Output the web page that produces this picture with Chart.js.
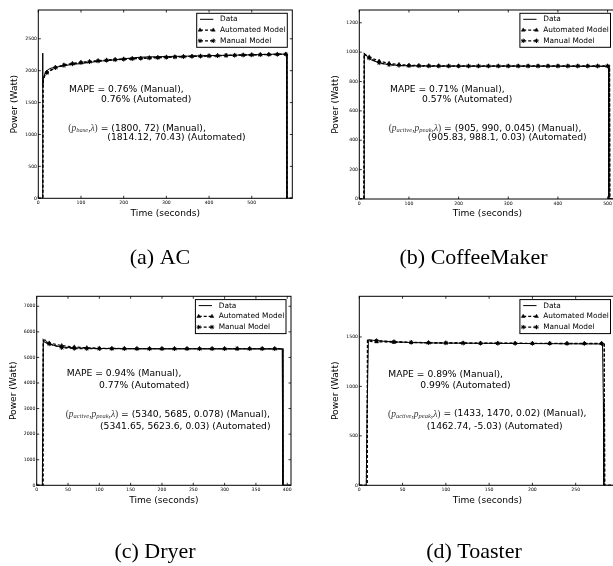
<!DOCTYPE html>
<html><head><meta charset="utf-8">
<script src="https://cdn.jsdelivr.net/npm/chart.js@4.4.1/dist/chart.umd.min.js"></script>
<style>
html,body{margin:0;padding:0;background:#fff;width:613px;height:566px;overflow:hidden;position:relative;}
canvas{position:absolute;left:0;top:0;}
</style></head><body>
<canvas id="cA" width="640" height="566"></canvas>
<canvas id="cB" width="640" height="566"></canvas>
<canvas id="cC" width="640" height="566"></canvas>
<canvas id="cD" width="640" height="566"></canvas>
<script>
// ---------- (a) AC ----------
const acTime = [0,10,10.2,10.7,12,14,17,20,25,30,40,50,60,80,100,125,150,175,200,225,250,275,300,350,400,450,500,540,560,575,582,582.5,595];
const acData = [0,0,2275,1770,1865,1925,1975,2000,2025,2040,2052,2066,2078,2098,2112,2133,2152,2168,2186,2204,2214,2219,2222,2228,2236,2242,2249,2255,2261,2258,2252,0,0];
const acModelTime = [0,10.5,11,12,14,16,20,40,60,80,100,120,140,160,180,200,220,240,260,280,300,320,340,360,380,400,420,440,460,480,500,520,540,560,580,582,582.6,595];
const acAuto = [0,0,1814,1863,1912,1940,1976,2054,2090,2113,2131,2145,2157,2167,2176,2184,2191,2197,2203,2208,2214,2218,2223,2227,2231,2234,2238,2241,2244,2248,2250,2253,2256,2259,2261,2261,0,0];
const acManual = [0,0,1800,1850,1900,1929,1966,2045,2082,2106,2124,2138,2151,2161,2170,2178,2185,2192,2198,2203,2208,2213,2218,2222,2226,2230,2233,2237,2240,2243,2246,2249,2252,2254,2257,2257,0,0];
const acXTicks = [0,100,200,300,400,500];
const acYTicks = [0,500,1000,1500,2000,2500];

// ---------- (b) CoffeeMaker ----------
const cmTime = [0,9.5,10,12,14,17,20,25,30,40,50,60,70,80,90,100,120,150,200,250,300,350,400,450,500,502,502.5,516];
const cmData = [0,0,992,985,976,966,957,946,939,929,920,916,912,910,908,907,906,905,905,904,905,904,904,903,903,902,0,0];
const cmModelTime = [0,9.3,10,12,15,20,40,60,80,100,120,140,160,180,200,220,240,260,280,300,320,340,360,380,400,420,440,460,480,500,504,504.5,516];
const cmAuto = [0,0,988,983,977,967,939,924,916,911,909,908,907,906,906,906,906,906,906,906,906,906,906,906,906,906,906,906,906,906,906,0,0];
const cmManual = [0,0,990,983,973,959,927,914,909,907,906,905,905,905,905,905,905,905,905,905,905,905,905,905,905,905,905,905,905,905,905,0,0];
const cmXTicks = [0,100,200,300,400,500];
const cmYTicks = [0,200,400,600,800,1000,1200];

// ---------- (c) Dryer ----------
const drTime = [0,9,10.5,13,16,20,25,30,40,50,60,80,100,150,200,250,300,350,392,393,406];
const drData = [0,0,5600,5705,5610,5540,5490,5455,5410,5390,5375,5360,5350,5340,5335,5335,5332,5330,5325,0,0];
const drModelTime = [0,10,10.5,12,14,16,20,40,60,80,100,120,140,160,180,200,220,240,260,280,300,320,340,360,380,393,393.5,406];
const drAuto = [0,0,5624,5608,5592,5577,5563,5463,5408,5378,5362,5353,5348,5345,5344,5343,5342,5342,5342,5342,5342,5342,5342,5342,5342,5342,0,0];
const drManual = [0,0,5685,5635,5593,5557,5525,5379,5348,5342,5340,5340,5340,5340,5340,5340,5340,5340,5340,5340,5340,5340,5340,5340,5340,5340,0,0];
const drXTicks = [0,50,100,150,200,250,300,350,400];
const drYTicks = [0,1000,2000,3000,4000,5000,6000,7000];

// ---------- (d) Toaster ----------
const toTime = [0,8,9,10.5,15,20,30,40,60,80,100,140,180,220,260,281,282,282.5,296];
const toData = [0,0,740,1472,1467,1462,1455,1450,1444,1440,1438,1436,1434,1432,1430,1429,845,0,0];
const toModelTime = [0,9,9.5,10,12,15,20,40,60,80,100,120,140,160,180,200,220,240,260,280,283,283.5,296];
const toAuto = [0,0,1466,1463,1457,1453,1451,1446,1443,1441,1440,1439,1438,1438,1437,1436,1436,1435,1435,1435,1435,0,0];
const toManual = [0,0,1470,1470,1468,1466,1463,1453,1446,1442,1439,1437,1436,1435,1434,1434,1434,1433,1433,1433,1433,0,0];
const toXTicks = [0,50,100,150,200,250];
const toYTicks = [0,500,1000,1500];

const seriesNames = ['Data','Automated Model','Manual Model'];

const mathBase = [['(','r'],['p','i'],['base','s'],[',','r'],['λ','i'],[')','r']];
const mathActive = [['(','r'],['p','i'],['active','s'],[',','r'],['p','i'],['peak','s'],[',','r'],['λ','i'],[')','r']];

const panels = [
  {id:'cA', time:acTime, data:acData, mtime:acModelTime, auto:acAuto, manual:acManual, xTicks:acXTicks, yTicks:acYTicks,
   xMax:595, yMax:2951, area:{l:38.3,t:10,r:292.3,b:198.3},
   lines:[
     {x:30.7,y:79.3,parts:[['MAPE = 0.76% (Manual),','n']]},
     {x:62.7,y:89.3,parts:[['0.76% (Automated)','n']]},
     {x:30,y:118.3,parts:mathBase.concat([[' = (1800, 72) (Manual),','n']])},
     {x:69,y:127.7,parts:[['(1814.12, 70.43) (Automated)','n']]}],
   caption:'(a) AC', cap:{x:160,y:258}},
  {id:'cB', time:cmTime, data:cmData, mtime:cmModelTime, auto:cmAuto, manual:cmManual, xTicks:cmXTicks, yTicks:cmYTicks,
   xMax:516, yMax:1287, area:{l:359.3,t:10,r:615.5,b:199},
   lines:[
     {x:30.7,y:79.3,parts:[['MAPE = 0.71% (Manual),','n']]},
     {x:62.7,y:89.3,parts:[['0.57% (Automated)','n']]},
     {x:29.4,y:118.3,parts:mathActive.concat([[' = (905, 990, 0.045) (Manual),','n']])},
     {x:68.4,y:128,parts:[['(905.83, 988.1, 0.03) (Automated)','n']]}],
   caption:'(b) CoffeeMaker', cap:{x:473.5,y:258}},
  {id:'cC', time:drTime, data:drData, mtime:drModelTime, auto:drAuto, manual:drManual, xTicks:drXTicks, yTicks:drYTicks,
   xMax:406, yMax:7390, area:{l:36.7,t:296.3,r:291,b:485.3},
   lines:[
     {x:30,y:77.7,parts:[['MAPE = 0.94% (Manual),','n']]},
     {x:62.3,y:89.4,parts:[['0.77% (Automated)','n']]},
     {x:29,y:118.4,parts:mathActive.concat([[' = (5340, 5685, 0.078) (Manual),','n']])},
     {x:63.3,y:130.7,parts:[['(5341.65, 5623.6, 0.03) (Automated)','n']]}],
   caption:'(c) Dryer', cap:{x:155,y:552}},
  {id:'cD', time:toTime, data:toData, mtime:toModelTime, auto:toAuto, manual:toManual, xTicks:toXTicks, yTicks:toYTicks,
   xMax:296, yMax:1911, area:{l:359.3,t:296.3,r:615.5,b:485.3},
   lines:[
     {x:29,y:78.4,parts:[['MAPE = 0.89% (Manual),','n']]},
     {x:61,y:89,parts:[['0.99% (Automated)','n']]},
     {x:28.7,y:117.7,parts:mathActive.concat([[' = (1433, 1470, 0.02) (Manual),','n']])},
     {x:67.4,y:130,parts:[['(1462.74, -5.03) (Automated)','n']]}],
   caption:'(d) Toaster', cap:{x:474,y:552}}
];

const SANS = '"DejaVu Sans", sans-serif';
const SERIF = '"Liberation Serif", "DejaVu Serif", serif';

function pts(xs, ys){ return xs.map((x,i)=>({x:x, y:ys[i]})); }

function drawMarker(ctx, style, r, x, y){
  ctx.save();
  ctx.fillStyle='#000'; ctx.strokeStyle='#000'; ctx.setLineDash([]);
  ctx.lineWidth = style==='star'?1:0.5;
  if (Chart.helpers && Chart.helpers.drawPoint){
    Chart.helpers.drawPoint(ctx,{pointStyle:style,radius:r,rotation:0,borderWidth:ctx.lineWidth},x,y);
  }
  ctx.restore();
}

function drawRich(ctx, x, y, parts){
  let cx = x;
  for (const [txt, kind] of parts){
    let dy = 0;
    if (kind==='n'){ ctx.font = '9.2px '+SANS; ctx.fillStyle='#000'; }
    else if (kind==='r'){ ctx.font = '9.5px '+SERIF; ctx.fillStyle='#333'; }
    else if (kind==='i'){ ctx.font = 'italic 9.5px '+SERIF; ctx.fillStyle='#333'; }
    else { ctx.font = 'italic 6.5px '+SERIF; ctx.fillStyle='#333'; dy = 2; }
    ctx.fillText(txt, cx, y+dy);
    cx += ctx.measureText(txt).width;
  }
}

const panelPlugin = {
  id:'panel',
  afterDraw(chart){
    const p = chart.options.plugins.panel;
    const ctx = chart.ctx;
    const a = chart.chartArea;
    const xs = chart.scales.x, ys = chart.scales.y;
    ctx.save();
    ctx.setLineDash([]);
    ctx.strokeStyle='#000'; ctx.fillStyle='#000';
    // frame
    ctx.lineWidth = 1;
    ctx.strokeRect(a.left, a.top, a.right-a.left, a.bottom-a.top);
    // ticks (inward, all sides)
    const tl = 2.5;
    ctx.lineWidth = 0.8;
    ctx.beginPath();
    for (const v of p.xTicks){
      const px = xs.getPixelForValue(v);
      ctx.moveTo(px, a.bottom); ctx.lineTo(px, a.bottom-tl);
      ctx.moveTo(px, a.top); ctx.lineTo(px, a.top+tl);
    }
    for (const v of p.yTicks){
      const py = ys.getPixelForValue(v);
      ctx.moveTo(a.left, py); ctx.lineTo(a.left+tl, py);
      ctx.moveTo(a.right, py); ctx.lineTo(a.right-tl, py);
    }
    ctx.stroke();
    // tick labels
    ctx.font = '4.6px '+SANS;
    ctx.textBaseline='middle';
    ctx.textAlign='center';
    for (const v of p.xTicks){
      ctx.fillText(String(v), xs.getPixelForValue(v), a.bottom+4.3);
    }
    ctx.textAlign='right';
    for (const v of p.yTicks){
      ctx.fillText(String(v), a.left-1.3, ys.getPixelForValue(v));
    }
    // axis titles
    ctx.font = '9.1px '+SANS;
    ctx.textAlign='center';
    ctx.fillText('Time (seconds)', (a.left+a.right)/2, a.bottom+15);
    ctx.save();
    ctx.translate(a.left-23.3, (a.top+a.bottom)/2);
    ctx.rotate(-Math.PI/2);
    ctx.fillText('Power (Watt)', 0, 0);
    ctx.restore();
    // annotations
    ctx.textAlign='left';
    for (const ln of p.lines){ drawRich(ctx, a.left+ln.x, a.top+ln.y, ln.parts); }
    // legend
    const lw = 90.6, lh = 34;
    const lx = a.right-95.6, ly = a.top+3.3;
    ctx.fillStyle='#fff';
    ctx.fillRect(lx, ly, lw, lh);
    ctx.strokeStyle='#000'; ctx.lineWidth=1;
    ctx.strokeRect(lx, ly, lw, lh);
    const rows = [6, 16.8, 27.5];
    const x1 = lx+3.3, x2 = lx+16.6;
    for (let i=0;i<3;i++){
      const yy = ly+rows[i];
      ctx.strokeStyle='#000';
      ctx.lineWidth = i===0?1:1.2;
      ctx.setLineDash(i===0?[]:[3,2]);
      ctx.beginPath(); ctx.moveTo(x1,yy); ctx.lineTo(x2,yy); ctx.stroke();
      ctx.setLineDash([]);
      if (i===1){ drawMarker(ctx,'triangle',2.2,x1,yy); drawMarker(ctx,'triangle',2.2,x2,yy); }
      if (i===2){ drawMarker(ctx,'star',2.2,x1,yy); drawMarker(ctx,'star',2.2,x2,yy); }
      ctx.fillStyle='#000';
      ctx.font='7.4px '+SANS;
      ctx.textAlign='left'; ctx.textBaseline='middle';
      ctx.fillText(seriesNames[i], lx+23.3, yy);
    }
    // caption
    ctx.fillStyle='#000';
    ctx.font = '22px '+SERIF;
    ctx.textAlign='center'; ctx.textBaseline='middle';
    ctx.fillText(p.caption, p.cap.x, p.cap.y);
    ctx.restore();
  }
};

function makePanel(p){
  const W = 640, H = 566;
  const isMarker = (ctx)=>{
    const t = p.mtime[ctx.dataIndex];
    return (t>=20 && t%20===0 && t<=p.xMax) ? 2.2 : 0;
  };
  new Chart(document.getElementById(p.id), {
    type:'line',
    data:{datasets:[
      {label:seriesNames[0], data:pts(p.time,p.data), borderColor:'#000', borderWidth:1, pointRadius:0, tension:0, order:3},
      {label:seriesNames[1], data:pts(p.mtime,p.auto), borderColor:'#000', borderWidth:1.2, borderDash:[3,2], tension:0,
       pointStyle:'triangle', pointRadius:isMarker, pointBackgroundColor:'#000', pointBorderColor:'#000', pointBorderWidth:0.5, order:2},
      {label:seriesNames[2], data:pts(p.mtime,p.manual), borderColor:'#000', borderWidth:1.2, borderDash:[3,2], tension:0,
       pointStyle:'star', pointRadius:isMarker, pointBackgroundColor:'#000', pointBorderColor:'#000', pointBorderWidth:1, order:1}
    ]},
    options:{
      responsive:false, animation:false, events:[],
      layout:{padding:{left:p.area.l, top:p.area.t, right:W-p.area.r, bottom:H-p.area.b}},
      scales:{
        x:{type:'linear', min:0, max:p.xMax, display:false},
        y:{type:'linear', min:0, max:p.yMax, display:false}
      },
      plugins:{legend:{display:false}, tooltip:{enabled:false}, panel:p}
    },
    plugins:[panelPlugin]
  });
}
panels.forEach(makePanel);
</script>
</body></html>
